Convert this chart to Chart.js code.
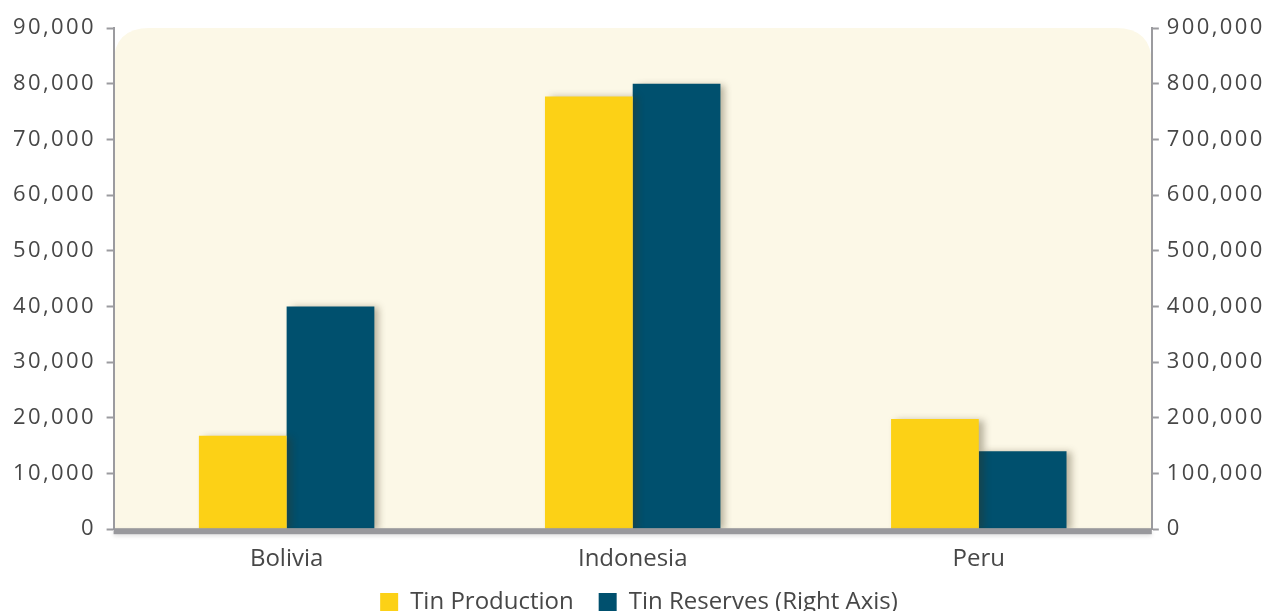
<!DOCTYPE html>
<html>
<head>
<meta charset="utf-8">
<script src="https://cdn.jsdelivr.net/npm/chart.js@4"></script>
<style>
  html, body { margin: 0; padding: 0; background: #ffffff; }
  #wrap { width: 1275px; height: 611px; position: relative; }
</style>
</head>
<body>
<div id="wrap"><canvas id="chart"></canvas></div>
<script>
(function () {
  "use strict";

  const countries = ["Bolivia", "Indonesia", "Peru"];
  const tinProduction = [16800, 77700, 19800];
  const tinReserves = [400000, 800000, 140000];

  const fontFamily = "'Open Sans', sans-serif";
  const textColor = "#474747";
  const axisColor = "#9b9b9f";

  const fmt = (v) => Number(v).toLocaleString("en-US");

  // draws a string one glyph at a time with a bit of extra tracking
  function spacedText(ctx, str, x, y, spacing, alignRight) {
    const widths = [...str].map((ch) => ctx.measureText(ch).width);
    const total =
      widths.reduce((a, b) => a + b, 0) + spacing * (str.length - 1);
    let cx = alignRight ? x - total : x;
    [...str].forEach((ch, i) => {
      ctx.fillText(ch, cx, y);
      cx += widths[i] + spacing;
    });
  }

  const panelPlugin = {
    id: "panel",
    beforeDraw(chart) {
      const { ctx, chartArea: a } = chart;
      const r = 36;
      ctx.save();
      ctx.fillStyle = "#fcf8e7";
      ctx.beginPath();
      ctx.moveTo(a.left, a.bottom);
      ctx.lineTo(a.left, a.top + r);
      ctx.quadraticCurveTo(a.left, a.top, a.left + r, a.top);
      ctx.lineTo(a.right - r, a.top);
      ctx.quadraticCurveTo(a.right, a.top, a.right, a.top + r);
      ctx.lineTo(a.right, a.bottom);
      ctx.closePath();
      ctx.fill();
      ctx.restore();
    },
    beforeDatasetsDraw(chart) {
      const ctx = chart.ctx;
      ctx.save();
      ctx.shadowColor = "rgba(60, 50, 20, 0.35)";
      ctx.shadowBlur = 7;
      ctx.shadowOffsetX = 5;
      ctx.shadowOffsetY = 1;
    },
    afterDatasetsDraw(chart) {
      const { ctx, chartArea: a } = chart;
      ctx.restore();
      // thick base line
      ctx.save();
      ctx.shadowColor = "rgba(0, 0, 0, 0.12)";
      ctx.shadowBlur = 4;
      ctx.shadowOffsetY = 2;
      ctx.fillStyle = "#98989c";
      ctx.fillRect(a.left, a.bottom - 1, a.right - a.left, 6);
      ctx.restore();
    },
    afterDraw(chart) {
      // value labels for the two side axes, placed from the scales' own ticks
      const ctx = chart.ctx;
      ctx.save();
      ctx.font = "22px " + fontFamily;
      ctx.fillStyle = textColor;
      ctx.textBaseline = "middle";
      ctx.textAlign = "left";
      ["y", "y1"].forEach((id) => {
        const sc = chart.scales[id];
        const left = sc.position === "left";
        sc.ticks.forEach((t, i) => {
          const py = sc.getPixelForTick(i);
          const px = left ? sc.right - 20 : sc.left + 15;
          spacedText(ctx, fmt(t.value), px, py, 2.4, left);
        });
      });
      ctx.restore();
    },
  };

  const ctx = document.getElementById("chart").getContext("2d");

  new Chart(ctx, {
    type: "bar",
    data: {
      labels: countries,
      datasets: [
        {
          label: "Tin Production",
          data: tinProduction,
          backgroundColor: "#fcd116",
          borderWidth: 0,
          yAxisID: "y",
          categoryPercentage: 0.507,
          barPercentage: 1,
        },
        {
          label: "Tin Reserves (Right Axis)",
          data: tinReserves,
          backgroundColor: "#00506e",
          borderWidth: 0,
          yAxisID: "y1",
          categoryPercentage: 0.507,
          barPercentage: 1,
        },
      ],
    },
    options: {
      responsive: true,
      maintainAspectRatio: false,
      animation: false,
      layout: { padding: { top: 28, left: 34, right: 31, bottom: -13 } },
      plugins: {
        tooltip: { enabled: false },
        legend: {
          position: "bottom",
          labels: {
            color: textColor,
            font: { family: fontFamily, size: 24 },
            boxWidth: 18,
            boxHeight: 18,
            padding: 0,
            generateLabels(chart) {
              const items =
                Chart.defaults.plugins.legend.labels.generateLabels(chart);
              // room between the two legend entries
              items[0].text += "    ";
              return items;
            },
          },
        },
      },
      scales: {
        x: {
          grid: { display: false, drawTicks: false },
          border: { display: false },
          ticks: {
            color: textColor,
            font: { family: fontFamily, size: 24 },
            padding: 16,
          },
        },
        y: {
          position: "left",
          min: 0,
          max: 90000,
          ticks: {
            stepSize: 10000,
            color: "rgba(0,0,0,0)",
            font: { family: fontFamily, size: 22 },
            padding: 2,
            callback: fmt,
          },
          grid: {
            drawOnChartArea: false,
            drawTicks: true,
            tickLength: 7,
            tickWidth: 2,
            tickColor: axisColor,
          },
          border: { display: true, color: axisColor, width: 2 },
        },
        y1: {
          position: "right",
          min: 0,
          max: 900000,
          ticks: {
            stepSize: 100000,
            color: "rgba(0,0,0,0)",
            font: { family: fontFamily, size: 22 },
            padding: 2,
            callback: fmt,
          },
          grid: {
            drawOnChartArea: false,
            drawTicks: true,
            tickLength: 7,
            tickWidth: 2,
            tickColor: axisColor,
          },
          border: { display: true, color: axisColor, width: 2 },
        },
      },
    },
    plugins: [panelPlugin],
  });
})();
</script>
</body>
</html>
